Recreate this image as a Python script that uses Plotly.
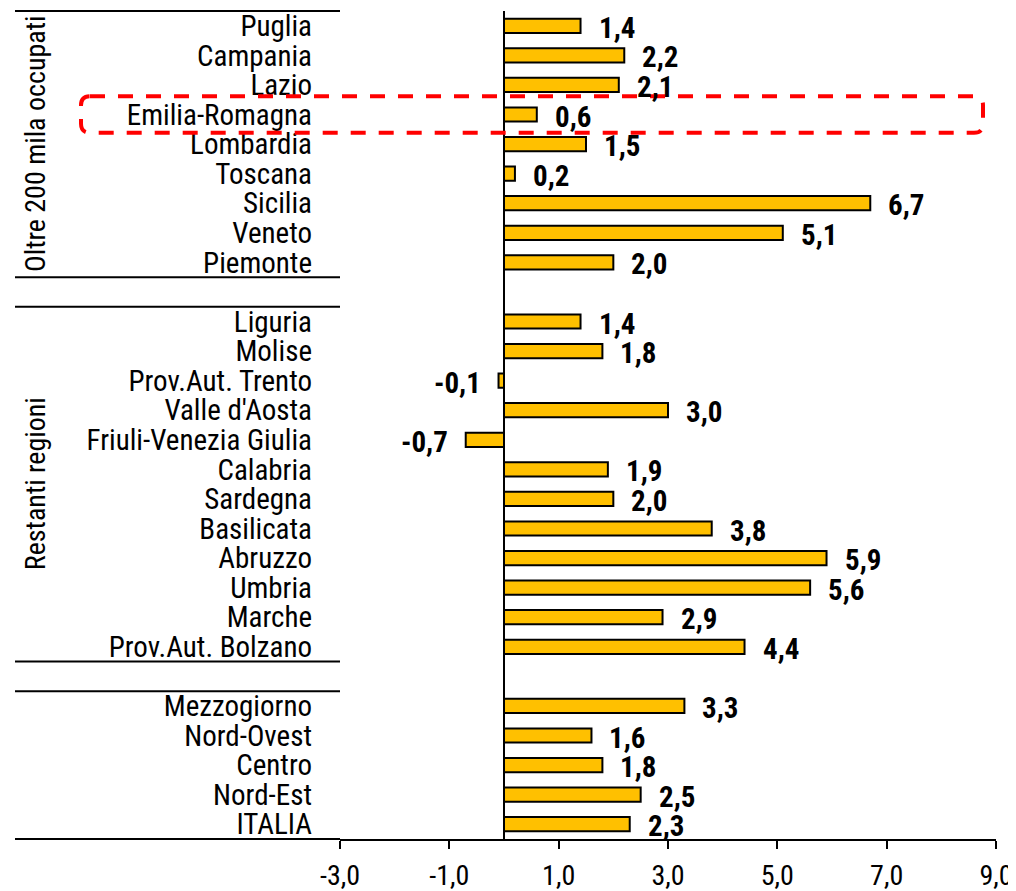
import plotly.graph_objects as go

# ---------------- data ----------------
group_titles = ["Oltre 200 mila occupati", "Restanti regioni", ""]

regions_oltre = ["Puglia", "Campania", "Lazio", "Emilia-Romagna", "Lombardia",
                 "Toscana", "Sicilia", "Veneto", "Piemonte"]
values_oltre = [1.4, 2.2, 2.1, 0.6, 1.5, 0.2, 6.7, 5.1, 2.0]

regions_restanti = ["Liguria", "Molise", "Prov.Aut. Trento", "Valle d'Aosta",
                    "Friuli-Venezia Giulia", "Calabria", "Sardegna", "Basilicata",
                    "Abruzzo", "Umbria", "Marche", "Prov.Aut. Bolzano"]
values_restanti = [1.4, 1.8, -0.1, 3.0, -0.7, 1.9, 2.0, 3.8, 5.9, 5.6, 2.9, 4.4]

ripartizioni = ["Mezzogiorno", "Nord-Ovest", "Centro", "Nord-Est", "ITALIA"]
values_ripartizioni = [3.3, 1.6, 1.8, 2.5, 2.3]

x_tickvals = [-3, -1, 1, 3, 5, 7, 9]
x_ticktext = ["-3,0", "-1,0", "1,0", "3,0", "5,0", "7,0", "9,0"]

highlight = "Emilia-Romagna"

# ---------------- layout constants ----------------
OFF = 8                      # default page margin of the html body
W, H = 1016 - OFF, 891 - OFF
ML, MR, MT, MB = 332, 20, 3, 52
PW, PH = W - ML - MR, H - MT - MB
FONT = "Roboto Condensed, Liberation Sans Narrow, Arial Narrow, sans-serif"

groups = [
    (group_titles[0], regions_oltre, values_oltre),
    (group_titles[1], regions_restanti, values_restanti),
    (group_titles[2], ripartizioni, values_ripartizioni),
]

cats, vals, pos, spans = [], [], [], []
p = 0
for title, names, values in groups:
    start = p
    for n, v in zip(names, values):
        cats.append(n)
        vals.append(v)
        pos.append(p)
        p += 1
    spans.append((title, start, p - 1))
    p += 1
last = p - 2  # last occupied slot
y_range = [last + 0.5, -0.5]


def xpaper(px):
    """screen pixel -> paper x"""
    return (px - OFF - ML) / PW


def ypaper(slot):
    return (y_range[0] - slot) / (y_range[0] - y_range[1])


fig = go.Figure()
fig.add_trace(go.Bar(
    x=vals, y=pos, orientation="h", width=0.48,
    marker=dict(color="#FFC000", line=dict(color="black", width=2)),
    hoverinfo="skip",
))

annotations = []
for v, yp in zip(vals, pos):
    txt = f"{v:.1f}".replace(".", ",")
    annotations.append(dict(
        x=v, y=yp, xref="x", yref="y", text=f"<b>{txt}</b>", showarrow=False,
        xanchor="left" if v >= 0 else "right", xshift=16 if v >= 0 else -16,
        yshift=-2, font=dict(family=FONT, size=29, color="black"),
    ))

shapes = []
for title, s, e in spans:
    for b in (s - 0.5, e + 0.5):
        shapes.append(dict(type="line", xref="paper", yref="paper",
                           x0=xpaper(15), x1=0, y0=ypaper(b), y1=ypaper(b),
                           line=dict(color="black", width=2)))
    if title:
        annotations.append(dict(
            x=xpaper(35), y=(s + e) / 2, xref="paper", yref="y", text=title,
            textangle=-90, showarrow=False, xanchor="center", yanchor="middle",
            font=dict(family=FONT, size=28, color="black"),
        ))

# red dashed rounded rectangle around highlighted row
hi = pos[cats.index(highlight)]
x0, x1 = xpaper(81), xpaper(983)
y0, y1 = ypaper(hi + 0.62), ypaper(hi - 0.62)
rx, ry = 9 / PW, 9 / PH
path = (f"M {x0 + rx},{y1} L {x1 - rx},{y1} Q {x1},{y1} {x1},{y1 - ry} "
        f"L {x1},{y0 + ry} Q {x1},{y0} {x1 - rx},{y0} L {x0 + rx},{y0} "
        f"Q {x0},{y0} {x0},{y0 + ry} L {x0},{y1 - ry} Q {x0},{y1} {x0 + rx},{y1} Z")
shapes.append(dict(type="path", xref="paper", yref="paper", path=path,
                   line=dict(color="#FF0000", width=4, dash="15px,13px")))

fig.update_layout(
    width=W, height=H,
    margin=dict(l=ML, r=MR, t=MT, b=MB, autoexpand=False),
    paper_bgcolor="white", plot_bgcolor="white",
    showlegend=False,
    font=dict(family=FONT, color="black"),
    shapes=shapes, annotations=annotations,
    xaxis=dict(
        range=[-3, 9], tickvals=x_tickvals, ticktext=x_ticktext,
        showgrid=False, zeroline=True, zerolinecolor="black", zerolinewidth=2,
        showline=True, linecolor="black", linewidth=2,
        ticks="outside", ticklen=8, tickwidth=2, tickcolor="black",
        tickfont=dict(family=FONT, size=28, color="black"),
        ticklabelstandoff=2, automargin=False,
    ),
    yaxis=dict(
        range=y_range, tickvals=pos, ticktext=cats,
        showgrid=False, zeroline=False, showline=False, ticks="",
        tickfont=dict(family=FONT, size=29, color="black"),
        ticklabelstandoff=27, automargin=False,
    ),
)

fig.write_html("out.html")
